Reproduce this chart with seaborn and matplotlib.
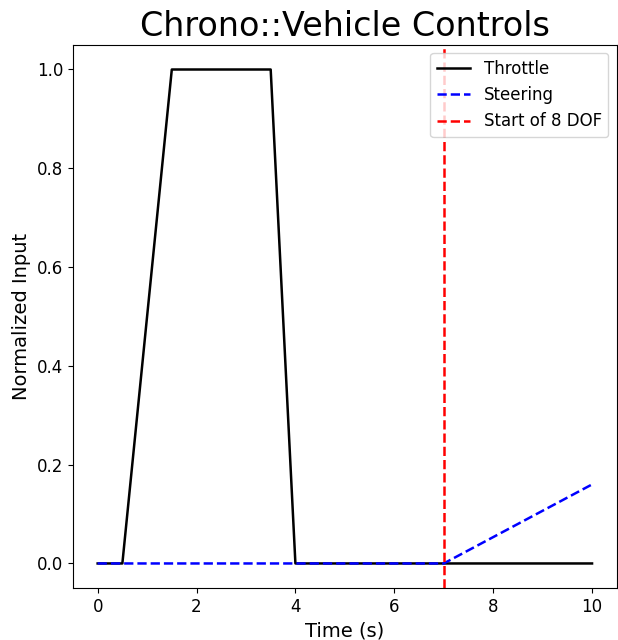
import matplotlib
matplotlib.use('Agg')
import matplotlib.pyplot as plt
import seaborn as sns
import pandas as pd

# Dados de controle
throttle_t = [0.0, 0.5, 1.5, 3.5, 4.0, 10.0]
throttle_v = [0.0, 0.0, 1.0, 1.0, 0.0, 0.0]
steering_t = [0.0, 7.0, 10.0]
steering_v = [0.0, 0.0, 0.16]
start_8dof = 7.0

df_throttle = pd.DataFrame({'t': throttle_t, 'v': throttle_v})
df_steering = pd.DataFrame({'t': steering_t, 'v': steering_v})

fig, ax = plt.subplots(figsize=(6.18, 6.4), dpi=100)
fig.subplots_adjust(left=0.118, right=0.998, bottom=0.081, top=0.930)

sns.lineplot(data=df_throttle, x='t', y='v', ax=ax, color='black', lw=1.8,
             label='Throttle', sort=False)
sns.lineplot(data=df_steering, x='t', y='v', ax=ax, color='blue', lw=1.8,
             linestyle='--', label='Steering', sort=False)
ax.axvline(start_8dof, color='red', linestyle='--', lw=1.8, label='Start of 8 DOF')

ax.set_xlim(-0.5, 10.5)
ax.set_ylim(-0.05, 1.05)
ax.set_title('Chrono::Vehicle Controls', fontsize=24)
ax.set_xlabel('Time (s)', fontsize=14)
ax.set_ylabel('Normalized Input', fontsize=14)
ax.tick_params(labelsize=12)
ax.legend(loc='upper right', fontsize=12)

fig.savefig('out.png', dpi=100)
